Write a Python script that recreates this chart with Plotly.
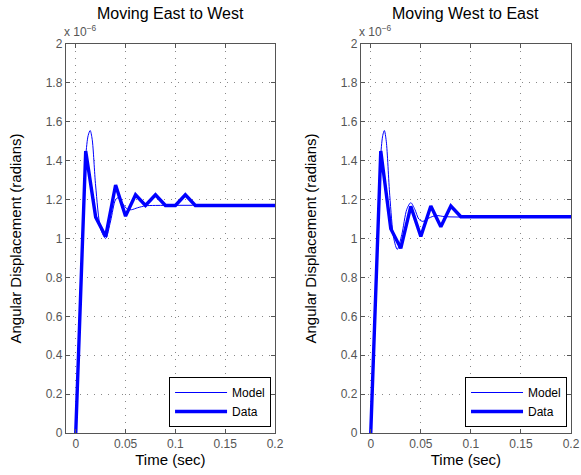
import plotly.graph_objects as go

# Data sampled every 0.01 s (values in units of 1e-6 rad)
t_data = [0, 0.01, 0.02, 0.03, 0.04, 0.05, 0.06, 0.07, 0.08, 0.09, 0.10, 0.11, 0.12, 0.13, 0.14, 0.15, 0.16, 0.17, 0.18, 0.19, 0.20]
ew_data = [0, 1.45, 1.11, 1.01, 1.275, 1.115, 1.225, 1.17, 1.225, 1.17, 1.17, 1.225, 1.17, 1.17, 1.17, 1.17, 1.17, 1.17, 1.17, 1.17, 1.17]
we_data = [0, 1.45, 1.05, 0.95, 1.165, 1.01, 1.167, 1.06, 1.167, 1.112, 1.112, 1.112, 1.112, 1.112, 1.112, 1.112, 1.112, 1.112, 1.112, 1.112, 1.112]

# Model curves
t_model_ew = [0, 0.005, 0.01, 0.0125, 0.0145, 0.0165, 0.02, 0.025, 0.03, 0.035, 0.04, 0.043, 0.047, 0.052, 0.056, 0.062, 0.07, 0.08, 0.2]
ew_model = [0, 0.72, 1.42, 1.53, 1.555, 1.51, 1.27, 1.05, 1.0, 1.09, 1.2, 1.21, 1.18, 1.15, 1.148, 1.158, 1.168, 1.17, 1.17]
t_model_we = [0, 0.005, 0.01, 0.012, 0.0136, 0.0155, 0.019, 0.023, 0.0265, 0.031, 0.036, 0.04, 0.044, 0.048, 0.052, 0.058, 0.065, 0.075, 0.2]
we_model = [0, 0.72, 1.43, 1.53, 1.555, 1.5, 1.22, 1.0, 0.944, 1.02, 1.15, 1.184, 1.15, 1.1, 1.088, 1.105, 1.118, 1.112, 1.112]

x_ticks = [0, 0.05, 0.1, 0.15, 0.2]
x_tick_labels = ["0", "0.05", "0.1", "0.15", "0.2"]
y_ticks = [0, 0.2, 0.4, 0.6, 0.8, 1, 1.2, 1.4, 1.6, 1.8, 2]
y_tick_labels = ["0", "0.2", "0.4", "0.6", "0.8", "1", "1.2", "1.4", "1.6", "1.8", "2"]

titles = ["Moving East to West", "Moving West to East"]

W, H = 581, 475
WE = 574.0  # effective rendered width used for placement
FONT = "Liberation Sans, Arial, sans-serif"
BLUE = "#0000ff"

fig = go.Figure()

fig.add_trace(go.Scatter(x=t_model_ew, y=ew_model, mode="lines", name="Model",
                         line=dict(color=BLUE, width=1, shape="spline", smoothing=0.8),
                         xaxis="x", yaxis="y", legend="legend"))
fig.add_trace(go.Scatter(x=t_data, y=ew_data, mode="lines", name="Data",
                         line=dict(color=BLUE, width=3.4),
                         xaxis="x", yaxis="y", legend="legend"))
fig.add_trace(go.Scatter(x=t_model_we, y=we_model, mode="lines", name="Model",
                         line=dict(color=BLUE, width=1, shape="spline", smoothing=0.8),
                         xaxis="x2", yaxis="y2", legend="legend2"))
fig.add_trace(go.Scatter(x=t_data, y=we_data, mode="lines", name="Data",
                         line=dict(color=BLUE, width=3.4),
                         xaxis="x2", yaxis="y2", legend="legend2"))

ml, mr, mt, mb = 0, 0, 44, 42
doms = [(66 / WE, 276 / WE), (362 / WE, 573 / WE)]

axis_common = dict(showline=True, linecolor="#555", linewidth=1, mirror="allticks",
                   ticks="inside", ticklen=4, tickcolor="#555",
                   showgrid=True, gridcolor="#888888", griddash="1px,6px", gridwidth=1,
                   zeroline=False, tickfont=dict(family=FONT, size=12, color="#555"))

layout = dict(
    width=W, height=H,
    margin=dict(l=ml, r=mr, t=mt, b=mb),
    plot_bgcolor="white", paper_bgcolor="white",
    font=dict(family=FONT),
)
for i, (d0, d1) in enumerate(doms):
    sx = "" if i == 0 else "2"
    layout["xaxis" + sx] = dict(domain=[d0, d1], range=[-0.01, 0.2], anchor="y" + sx,
                                tickvals=x_ticks, ticktext=x_tick_labels,
                                title=dict(text="Time (sec)", font=dict(family=FONT, size=15, color="black"), standoff=4),
                                **axis_common)
    layout["yaxis" + sx] = dict(domain=[0, 1], range=[0, 2], anchor="x" + sx,
                                tickvals=y_ticks, ticktext=y_tick_labels,
                                title=dict(text="Angular Displacement (radians)", font=dict(family=FONT, size=15, color="black"), standoff=20),
                                **axis_common)

leg_common = dict(bgcolor="white", bordercolor="black", borderwidth=1,
                  font=dict(family=FONT, size=12, color="black"),
                  xanchor="right", yanchor="bottom", yref="paper", xref="paper",
                  tracegroupgap=0, itemwidth=52)
layout["legend"] = dict(x=272 / WE, y=6 / 389, **leg_common)
layout["legend2"] = dict(x=569 / WE, y=6 / 389, **leg_common)

annotations = []
for i, (d0, d1) in enumerate(doms):
    annotations.append(dict(text=titles[i], x=(d0 + d1) / 2, y=1, xref="paper", yref="paper",
                            yshift=20, xanchor="center", yanchor="bottom", showarrow=False,
                            font=dict(family=FONT, size=16, color="black")))
    annotations.append(dict(text="x 10<sup>−6</sup>", x=d0, y=1, xref="paper", yref="paper",
                            xanchor="left", yanchor="bottom", xshift=-4, yshift=3, showarrow=False,
                            font=dict(family=FONT, size=12, color="#555")))
layout["annotations"] = annotations

fig.update_layout(**layout)
fig.write_html("out.html")
